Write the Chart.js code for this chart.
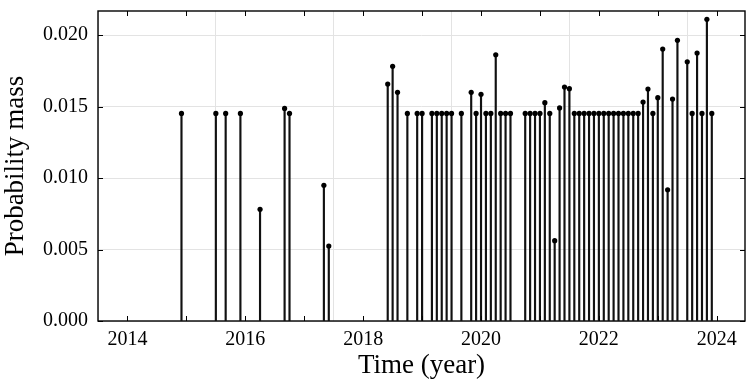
<!DOCTYPE html>
<html>
<head>
<meta charset="utf-8">
<script src="https://cdn.jsdelivr.net/npm/chart.js@4"></script>
<style>
  html, body { margin: 0; padding: 0; background: #fff; }
  #wrap { width: 756px; height: 382px; }
</style>
</head>
<body>
<div id="wrap"><canvas id="stemChart" width="756" height="382"></canvas></div>
<script>
// months that have a probability mass (YYYY-MM)
const stemDates = [
  "2014-12", "2015-07", "2015-09", "2015-12", "2016-04", "2016-09", "2016-10",
  "2017-05", "2017-06",
  "2018-06", "2018-07", "2018-08", "2018-10", "2018-12",
  "2019-01", "2019-03", "2019-04", "2019-05", "2019-06", "2019-07", "2019-09",
  "2019-11", "2019-12",
  "2020-01", "2020-02", "2020-03", "2020-04", "2020-05", "2020-06", "2020-07",
  "2020-10", "2020-11", "2020-12",
  "2021-01", "2021-02", "2021-03", "2021-04", "2021-05", "2021-06", "2021-07",
  "2021-08", "2021-09", "2021-10", "2021-11", "2021-12",
  "2022-01", "2022-02", "2022-03", "2022-04", "2022-05", "2022-06", "2022-07",
  "2022-08", "2022-09", "2022-10", "2022-11", "2022-12",
  "2023-01", "2023-02", "2023-03", "2023-04", "2023-05", "2023-07", "2023-08",
  "2023-09", "2023-10", "2023-11", "2023-12"
];

const stemMass = [
  0.01452, 0.01452, 0.01452, 0.01452, 0.00781, 0.01487, 0.01452,
  0.00949, 0.00524,
  0.01657, 0.01781, 0.01599, 0.01452, 0.01452,
  0.01452, 0.01452, 0.01452, 0.01452, 0.01452, 0.01452, 0.01452,
  0.01599, 0.01452,
  0.01585, 0.01452, 0.01452, 0.01862, 0.01452, 0.01452, 0.01452,
  0.01452, 0.01452, 0.01452,
  0.01452, 0.01527, 0.01452, 0.00562, 0.01490, 0.01636, 0.01625,
  0.01452, 0.01452, 0.01452, 0.01452, 0.01452,
  0.01452, 0.01452, 0.01452, 0.01452, 0.01452, 0.01452, 0.01452,
  0.01452, 0.01452, 0.01531, 0.01622, 0.01452,
  0.01562, 0.01902, 0.00918, 0.01552, 0.01963, 0.01813, 0.01452,
  0.01874, 0.01452, 0.02110, 0.01452
];

const xTicks = [2014, 2015, 2016, 2017, 2018, 2019, 2020, 2021, 2022, 2023, 2024];
const yTicks = [0, 0.005, 0.010, 0.015, 0.020];

const toYear = d => {
  const [yr, mo] = d.split("-").map(Number);
  return yr + (mo - 1) / 12;
};

const points = stemDates.map((d, i) => ({ x: toYear(d), y: stemMass[i] }));

const serif = "'Liberation Serif', 'Times New Roman', serif";

// box + inward tick marks like the matplotlib science style
const frameTicks = {
  id: "frameTicks",
  afterDatasetsDraw(chart) {
    const { ctx, chartArea: a, scales } = chart;
    const len = 5;
    ctx.save();
    ctx.strokeStyle = "#000";
    ctx.lineWidth = 1;
    ctx.beginPath();
    scales.x.ticks.forEach(t => {
      const px = Math.round(scales.x.getPixelForValue(t.value)) + 0.5;
      ctx.moveTo(px, a.bottom); ctx.lineTo(px, a.bottom - len);
      ctx.moveTo(px, a.top); ctx.lineTo(px, a.top + len);
    });
    scales.y.ticks.forEach(t => {
      const py = Math.round(scales.y.getPixelForValue(t.value)) + 0.5;
      ctx.moveTo(a.left, py); ctx.lineTo(a.left + len, py);
      ctx.moveTo(a.right, py); ctx.lineTo(a.right - len, py);
    });
    ctx.stroke();
    ctx.lineWidth = 1.4;
    ctx.strokeRect(a.left, a.top, a.right - a.left, a.bottom - a.top);
    ctx.restore();
  }
};

new Chart(document.getElementById("stemChart"), {
  type: "bar",
  data: {
    datasets: [
      {
        type: "scatter",
        data: points,
        order: 0,
        pointRadius: 2.6,
        pointHoverRadius: 2.6,
        pointBackgroundColor: "#000",
        pointBorderWidth: 0
      },
      {
        type: "bar",
        data: points,
        order: 1,
        barThickness: 1.5,
        backgroundColor: "#111",
        borderWidth: 0
      }
    ]
  },
  options: {
    responsive: false,
    animation: false,
    layout: { padding: { top: 11, right: 11, left: 0, bottom: 0 } },
    plugins: {
      legend: { display: false },
      tooltip: { enabled: false }
    },
    scales: {
      x: {
        type: "linear",
        offset: false,
        min: 2013.5,
        max: 2024.48,
        afterBuildTicks: s => { s.ticks = xTicks.map(v => ({ value: v })); },
        afterFit: s => { s.height = 61; },
        border: { display: false },
        grid: {
          drawTicks: false,
          lineWidth: 1,
          color: c => (c.tick && c.tick.value % 2 === 0) ? "#e3e3e3" : "rgba(0,0,0,0)"
        },
        ticks: {
          padding: 7,
          color: "#000",
          font: { family: serif, size: 20 },
          maxRotation: 0,
          autoSkip: false,
          callback: v => (v % 2 === 0 ? String(v) : "")
        },
        title: {
          display: true,
          text: "Time (year)",
          color: "#000",
          font: { family: serif, size: 27 },
          padding: { top: 0, bottom: 0 }
        }
      },
      y: {
        min: 0,
        max: 0.02168,
        afterBuildTicks: s => { s.ticks = yTicks.map(v => ({ value: v })); },
        afterFit: s => {
          s.width = 98;
          s.paddingTop = 0;
          s.paddingBottom = 0;
        },
        border: { display: false },
        grid: { drawTicks: false, lineWidth: 1, color: "#e3e3e3" },
        ticks: {
          padding: 10,
          color: "#000",
          font: { family: serif, size: 20 },
          callback: v => v.toFixed(3)
        },
        title: {
          display: true,
          text: "Probability mass",
          color: "#000",
          font: { family: serif, size: 27 },
          padding: { top: 0, bottom: 0 }
        }
      }
    }
  },
  plugins: [frameTicks]
});
</script>
</body>
</html>
